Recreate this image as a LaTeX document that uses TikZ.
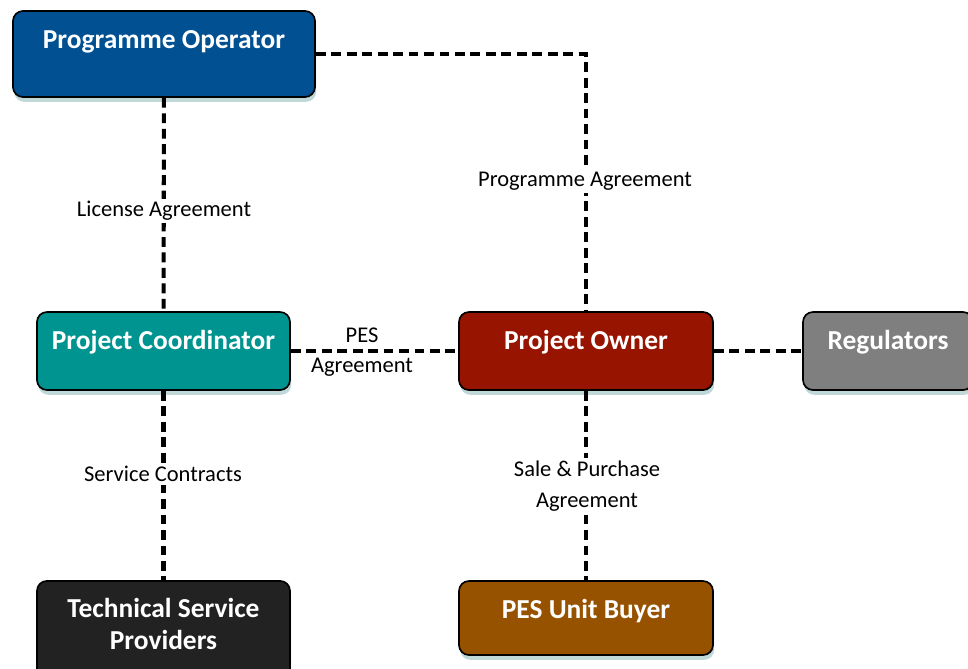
\documentclass[tikz,border=0pt]{standalone}
\usepackage{fontspec}
\setmainfont{Carlito}
\usetikzlibrary{shadows}
\definecolor{operblue}{RGB}{0,80,146}
\definecolor{coordteal}{RGB}{0,148,144}
\definecolor{ownerred}{RGB}{150,20,0}
\definecolor{reggray}{RGB}{127,127,127}
\definecolor{techblack}{RGB}{34,34,34}
\definecolor{buyerbrown}{RGB}{151,82,0}
\definecolor{shadowteal}{RGB}{150,190,190}

\begin{document}
\begin{tikzpicture}[
 party/.style={rectangle,rounded corners=2.5mm,draw=black,line width=1.2pt,inner sep=0pt,
   text=white,align=center,text height=0.925cm,font=\bfseries\fontsize{19.5}{22.8}\selectfont,
   drop shadow={fill=shadowteal,opacity=0.6,shadow xshift=0.3mm,shadow yshift=-1.2mm}},
 link/.style={line width=2.9pt,dash pattern=on 7pt off 4pt},
 deal/.style={fill=white,inner sep=2pt,align=center,font=\fontsize{16}{21.5}\selectfont}
]
\useasboundingbox (0,0) rectangle (24.2,-16.7);
% the six parties
\node[party,fill=operblue,minimum width=7.55cm,text depth=1.225cm] (oper) at (4.1,-1.35) {Programme Operator};
\node[party,fill=coordteal,minimum width=6.325cm,text depth=1.025cm] (coord) at (4.0875,-8.775) {Project Coordinator};
\node[party,fill=ownerred,minimum width=6.35cm,text depth=1.025cm] (owner) at (14.65,-8.775) {Project Owner};
\node[party,fill=reggray,minimum width=4.25cm,text depth=1.025cm] (reg) at (22.2,-8.775) {Regulators};
\node[party,fill=techblack,minimum width=6.325cm,text height=1.725cm,text depth=0.75cm] (tech) at (4.0875,-15.76) {Technical Service\\Providers};
\node[party,fill=buyerbrown,minimum width=6.35cm,text depth=0.925cm] (buyer) at (14.65,-15.45) {PES Unit Buyer};
% agreements between them
\draw[link] (oper.east) -| (owner.north);
\draw[link] (oper) -- (coord);
\draw[link] (coord) -- (owner);
\draw[link] (owner) -- (reg);
\draw[link] (coord) -- (tech);
\draw[link] (owner) -- (buyer);
\node[deal] (progag) at (14.625,-4.525) {Programme Agreement};
\node[deal] (licag) at (4.1,-5.275) {License Agreement};
\node[deal,fill=none] (pesag) at (9.05,-8.8) {PES\\Agreement};
\node[deal] (servc) at (4.075,-11.85) {Service Contracts};
\node[deal] (saleag) at (14.675,-12.15) {Sale \& Purchase\\Agreement};
\end{tikzpicture}
\end{document}
